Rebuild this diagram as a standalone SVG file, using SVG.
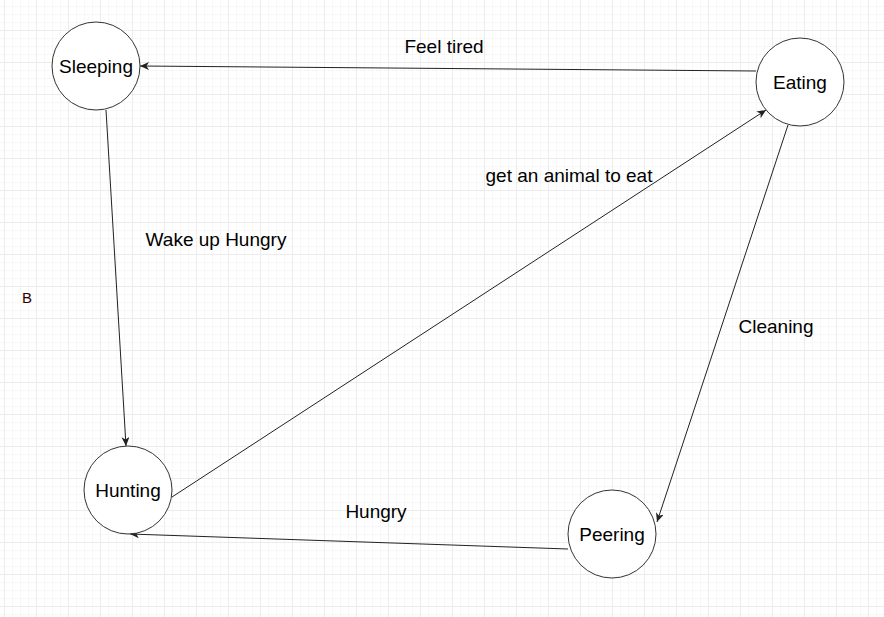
<svg xmlns="http://www.w3.org/2000/svg" width="884" height="617" viewBox="0 0 884 617">
<defs>
<pattern id="minor" patternUnits="userSpaceOnUse" x="4" y="30" width="8" height="8">
<path d="M0,0.5 H8 M0.5,0 V8" stroke="#f7f7f7" stroke-width="1" fill="none"/>
</pattern>
<pattern id="major" patternUnits="userSpaceOnUse" x="4" y="30" width="32" height="32">
<path d="M0,0.5 H32 M0.5,0 V32" stroke="#ececec" stroke-width="1" fill="none"/>
</pattern>
<marker id="arr" markerUnits="userSpaceOnUse" markerWidth="10" markerHeight="8" refX="9" refY="4" orient="auto">
<path d="M0,0 L9,4 L0,8 L2.5,4 Z" fill="#222"/>
</marker>
</defs>
<style>
.node circle{fill:#fff;stroke:#333;stroke-width:1}
.t{font-family:"Liberation Sans",Arial,sans-serif;font-size:19px;fill:#000;text-anchor:middle}
.edge{stroke:#222;stroke-width:1;fill:none;marker-end:url(#arr)}
</style>
<rect width="884" height="617" fill="#fff"/>
<rect width="884" height="617" fill="url(#minor)"/>
<rect width="884" height="617" fill="url(#major)"/>
<g id="connectors">
<path class="edge" d="M756,71 L140,66"/>
<path class="edge" d="M106,110 L126,446"/>
<path class="edge" d="M172,497 L766,110"/>
<path class="edge" d="M788,125 L657,522"/>
<path class="edge" d="M568,549 L130,534"/>
</g>
<g id="labels">
<text class="t" x="444" y="53">Feel tired</text>
<text class="t" x="216" y="246">Wake up Hungry</text>
<text class="t" x="569" y="182">get an animal to eat</text>
<text class="t" x="776" y="333">Cleaning</text>
<text class="t" x="376" y="518">Hungry</text>
<text x="27" y="303" style="font-family:'Liberation Sans',Arial,sans-serif;font-size:15px;fill:#330000;text-anchor:middle">B</text>
</g>
<g id="node-sleeping" class="node"><circle cx="96" cy="66" r="44"/><text class="t" x="96" y="73">Sleeping</text></g>
<g id="node-eating" class="node"><circle cx="800" cy="82" r="44"/><text class="t" x="800" y="89">Eating</text></g>
<g id="node-hunting" class="node"><circle cx="128" cy="490" r="44"/><text class="t" x="128" y="497">Hunting</text></g>
<g id="node-peering" class="node"><circle cx="612" cy="534" r="44"/><text class="t" x="612" y="541">Peering</text></g>
</svg>
